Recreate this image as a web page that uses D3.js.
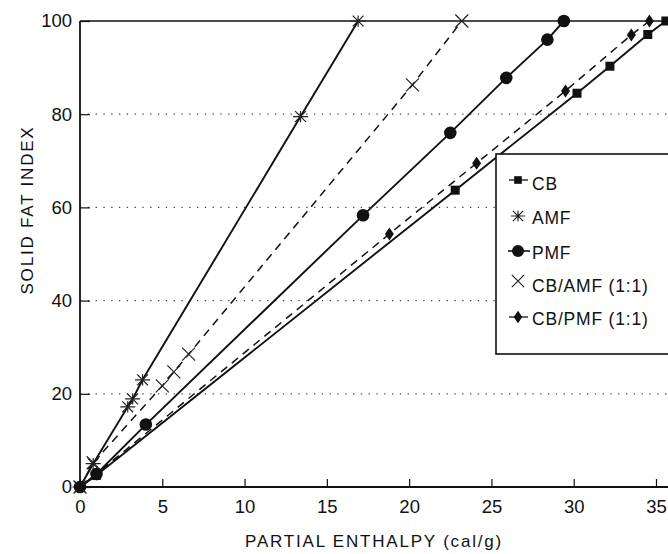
<!DOCTYPE html>
<html lang="en">
<head>
    <meta charset="UTF-8">
    <title>Solid fat index vs partial enthalpy</title>
    <script src="https://d3js.org/d3.v7.min.js"></script>
    <style>
        body { margin: 0; background: #fff; }
        text { font-family: "Liberation Sans", Arial, sans-serif; fill: #111; }
    </style>
</head>
<body>

<div id="my_dataviz"></div>

<script>
    // values
    var xTicks = [0, 5, 10, 15, 20, 25, 30, 35];
    var yTicks = [0, 20, 40, 60, 80, 100];
    var gridTicks = [20, 40, 60, 80];

    var cbX = [0, 1, 22.8, 30.2, 32.2, 34.5, 35.6];
    var cbY = [0, 2.5, 63.7, 84.5, 90.3, 97.1, 100];

    var amfX = [0, 0.8, 2.9, 3.2, 3.8, 13.4, 16.9];
    var amfY = [0, 5, 17.2, 18.9, 23, 79.5, 100];

    var pmfX = [0, 1, 4.0, 17.2, 22.5, 25.9, 28.4, 29.4];
    var pmfY = [0, 2.8, 13.4, 58.3, 76, 87.8, 96, 100];

    var cbAmfX = [0, 0.8, 5, 5.7, 6.6, 20.2, 23.2];
    var cbAmfY = [0, 5.2, 21.7, 24.7, 28.5, 86.3, 100];

    var cbPmfX = [0, 1, 18.8, 24.1, 29.5, 33.5, 34.6];
    var cbPmfY = [0, 2.8, 54.3, 69.5, 85, 97, 100];

    var seriesNames = ["CB", "AMF", "PMF", "CB/AMF (1:1)", "CB/PMF (1:1)"];

    var series = [
        {name: seriesNames[0], xs: cbX, ys: cbY, dash: null, sym: "square"},
        {name: seriesNames[1], xs: amfX, ys: amfY, dash: null, sym: "star"},
        {name: seriesNames[2], xs: pmfX, ys: pmfY, dash: null, sym: "circle"},
        {name: seriesNames[3], xs: cbAmfX, ys: cbAmfY, dash: "8,6", sym: "cross"},
        {name: seriesNames[4], xs: cbPmfX, ys: cbPmfY, dash: "8,6", sym: "diamond"}
    ];

    var W = 668, H = 554;
    var plotLeft = 80, plotTop = 21, plotBottom = 487;

    var svg = d3.select("#my_dataviz").append("svg")
        .attr("width", W)
        .attr("height", H);

    var x = d3.scaleLinear().domain([0, 35]).range([plotLeft, 656]);
    var y = d3.scaleLinear().domain([0, 100]).range([plotBottom, plotTop]);

    // dotted grid
    svg.append("g").selectAll("line")
        .data(gridTicks).join("line")
        .attr("x1", plotLeft).attr("x2", W)
        .attr("y1", function(d) { return y(d) })
        .attr("y2", function(d) { return y(d) })
        .attr("stroke", "#444")
        .attr("stroke-width", 1.2)
        .attr("stroke-dasharray", "1.3,6.5");

    // frame: left axis, bottom axis, top line
    svg.append("line").attr("x1", plotLeft).attr("x2", plotLeft).attr("y1", plotTop).attr("y2", plotBottom)
        .attr("stroke", "#111").attr("stroke-width", 1.8);
    svg.append("line").attr("x1", plotLeft).attr("x2", W).attr("y1", plotBottom).attr("y2", plotBottom)
        .attr("stroke", "#111").attr("stroke-width", 1.8);
    svg.append("line").attr("x1", plotLeft).attr("x2", W).attr("y1", plotTop).attr("y2", plotTop)
        .attr("stroke", "#111").attr("stroke-width", 1.5);

    // X axis (ticks point inward)
    var xAxis = svg.append("g")
        .attr("transform", "translate(0," + plotBottom + ")")
        .call(d3.axisBottom(x).tickValues(xTicks).tickSizeInner(-8).tickSizeOuter(0).tickPadding(13));
    xAxis.select(".domain").remove();
    xAxis.selectAll("line").attr("stroke", "#111").attr("stroke-width", 1.2);
    xAxis.selectAll("text").attr("font-size", 18.5).attr("fill", "#111")
        .attr("font-family", "'Liberation Sans', Arial, sans-serif");

    // Y axis
    var yAxis = svg.append("g")
        .attr("transform", "translate(" + plotLeft + ",0)")
        .call(d3.axisLeft(y).tickValues(yTicks).tickSizeInner(-10).tickSizeOuter(0).tickPadding(8));
    yAxis.select(".domain").remove();
    yAxis.selectAll("line").attr("stroke", "#111").attr("stroke-width", 1.2);
    yAxis.selectAll("text").attr("font-size", 18.5).attr("fill", "#111")
        .attr("font-family", "'Liberation Sans', Arial, sans-serif");

    // axis titles
    svg.append("text")
        .attr("x", 374).attr("y", 547)
        .attr("text-anchor", "middle")
        .attr("font-size", 17)
        .attr("letter-spacing", 1.8)
        .text("PARTIAL ENTHALPY (cal/g)");

    svg.append("text")
        .attr("transform", "translate(33,210) rotate(-90)")
        .attr("text-anchor", "middle")
        .attr("font-size", 17)
        .attr("letter-spacing", 1.8)
        .text("SOLID FAT INDEX");

    // marker shapes
    function drawMarker(g, sym, cx, cy, scale) {
        var s = scale || 1;
        if (sym === "square") {
            g.append("rect").attr("x", cx - 4.5 * s).attr("y", cy - 4.5 * s)
                .attr("width", 9 * s).attr("height", 9 * s).attr("fill", "#111");
        } else if (sym === "circle") {
            g.append("circle").attr("cx", cx).attr("cy", cy).attr("r", 6.3 * s).attr("fill", "#111");
        } else if (sym === "diamond") {
            g.append("path").attr("fill", "#111")
                .attr("d", "M" + cx + "," + (cy - 6.5 * s) + "L" + (cx + 4.5 * s) + "," + cy +
                    "L" + cx + "," + (cy + 6.5 * s) + "L" + (cx - 4.5 * s) + "," + cy + "Z");
        } else if (sym === "cross") {
            var r = 6.5 * s;
            g.append("path").attr("stroke", "#222").attr("stroke-width", 1.2).attr("fill", "none")
                .attr("d", "M" + (cx - r) + "," + (cy - r) + "L" + (cx + r) + "," + (cy + r) +
                    "M" + (cx - r) + "," + (cy + r) + "L" + (cx + r) + "," + (cy - r));
        } else if (sym === "star") {
            var q = 7.5 * s, d = q * 0.72;
            g.append("path").attr("stroke", "#222").attr("stroke-width", 1.2).attr("fill", "none")
                .attr("d", "M" + (cx - q) + "," + cy + "L" + (cx + q) + "," + cy +
                    "M" + (cx - d) + "," + (cy - d) + "L" + (cx + d) + "," + (cy + d) +
                    "M" + (cx - d) + "," + (cy + d) + "L" + (cx + d) + "," + (cy - d) +
                    "M" + cx + "," + (cy - q * 0.75) + "L" + cx + "," + (cy + q * 0.75));
        }
    }

    var line = d3.line()
        .x(function(d) { return x(d[0]) })
        .y(function(d) { return y(d[1]) });

    series.forEach(function(s) {
        var pts = s.xs.map(function(v, i) { return [v, s.ys[i]] });
        svg.append("path")
            .datum(pts)
            .attr("fill", "none")
            .attr("stroke", "#111")
            .attr("stroke-width", s.dash ? 1.5 : 1.9)
            .attr("stroke-dasharray", s.dash)
            .attr("d", line);
        var g = svg.append("g");
        pts.forEach(function(p) { drawMarker(g, s.sym, x(p[0]), y(p[1])); });
    });

    // legend box (runs off the right edge)
    var lg = svg.append("g");
    lg.append("rect")
        .attr("x", 496).attr("y", 154)
        .attr("width", 200).attr("height", 200)
        .attr("fill", "#fff")
        .attr("stroke", "#111")
        .attr("stroke-width", 1.6);

    var legendY = [180, 216, 251, 284, 317];
    series.forEach(function(s, i) {
        var cy = legendY[i];
        if (s.sym === "square" || s.sym === "diamond") {
            lg.append("line").attr("x1", 509).attr("x2", 528).attr("y1", cy).attr("y2", cy)
                .attr("stroke", "#111").attr("stroke-width", 1.3);
        }
        if (s.sym === "circle") {
            lg.append("line").attr("x1", 508).attr("x2", 530).attr("y1", cy).attr("y2", cy)
                .attr("stroke", "#111").attr("stroke-width", 1.6);
        }
        drawMarker(lg, s.sym, 518, cy - (s.sym === "cross" ? 3 : 0), s.sym === "square" ? 0.85 : 0.95);
        lg.append("text")
            .attr("x", 532).attr("y", cy + 8 + (i === 0 ? 2 : 0))
            .attr("font-size", 17.5)
            .attr("letter-spacing", 0.8)
            .text(s.name);
    });
</script>

</body>
</html>
